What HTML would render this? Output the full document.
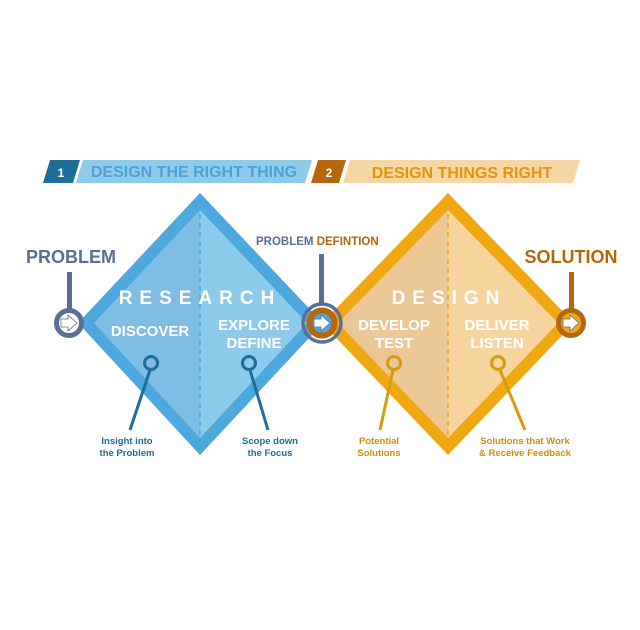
<!DOCTYPE html>
<html><head><meta charset="utf-8"><style>
html,body{margin:0;padding:0;background:#fff;}
svg{display:block;font-family:"Liberation Sans",sans-serif;font-weight:bold;}
</style></head><body>
<svg width="640" height="630" viewBox="0 0 640 630" xmlns="http://www.w3.org/2000/svg">
<rect width="640" height="630" fill="#fff"/>
<!-- banners -->
<polygon points="50,160 80,160 73,183 43,183" fill="#1d6e98"/>
<text x="61" y="177" font-size="12" fill="#fff" text-anchor="middle">1</text>
<polygon points="83,160 312,160 305,183 76,183" fill="#8fcbea"/>
<text x="194" y="177" font-size="16" fill="#4aa2d6" text-anchor="middle">DESIGN THE RIGHT THING</text>
<polygon points="318,160 346,160 339,183 311,183" fill="#b6660c"/>
<text x="329" y="177" font-size="12" fill="#fff" text-anchor="middle">2</text>
<polygon points="350,160 580,160 573,183 343,183" fill="#f6d6a2"/>
<text x="462" y="178" font-size="16" fill="#e4950c" text-anchor="middle">DESIGN THINGS RIGHT</text>

<!-- blue diamond -->
<polygon points="200,193 323,323 200,455 78,323" fill="#4da9dd"/>
<polygon points="200,210 200,438 94,323" fill="#7fbde2"/>
<polygon points="200,210 307,323 200,438" fill="#8ccbea"/>
<line x1="200" y1="205" x2="200" y2="445" stroke="#4da9dd" stroke-width="1.5" stroke-dasharray="5,4"/>
<!-- orange diamond -->
<polygon points="448,193 574,323 448,455 322,323" fill="#f0a812"/>
<polygon points="448,210 448,438 338,323" fill="#ebc795"/>
<polygon points="448,210 558,323 448,438" fill="#f5d49e"/>
<line x1="448" y1="205" x2="448" y2="445" stroke="#f0a812" stroke-width="1.5" stroke-dasharray="5,4"/>

<!-- titles -->
<text x="200" y="304" font-size="19" fill="#fff" text-anchor="middle" letter-spacing="7">RESEARCH</text>
<text x="449" y="304" font-size="19" fill="#fff" text-anchor="middle" letter-spacing="7">DESIGN</text>
<g font-size="15" fill="#fff" text-anchor="middle">
<text x="150" y="336">DISCOVER</text>
<text x="254" y="330">EXPLORE</text>
<text x="254" y="348">DEFINE</text>
<text x="394" y="330">DEVELOP</text>
<text x="394" y="348">TEST</text>
<text x="497" y="330">DELIVER</text>
<text x="497" y="348">LISTEN</text>
</g>

<!-- pins -->
<g fill="none" stroke-width="3">
<line x1="130" y1="430" x2="150" y2="370" stroke="#1d6e98"/>
<circle cx="151" cy="363" r="6.5" stroke="#1d6e98" fill="#7fbde2"/>
<line x1="268" y1="430" x2="250" y2="370" stroke="#1d6e98"/>
<circle cx="249" cy="363" r="6.5" stroke="#1d6e98" fill="#8ccbea"/>
<line x1="380" y1="430" x2="393" y2="370" stroke="#d89a10"/>
<circle cx="394" cy="363" r="6.5" stroke="#d89a10" fill="#ebc795"/>
<line x1="525" y1="430" x2="500" y2="370" stroke="#d89a10"/>
<circle cx="498" cy="363" r="6.5" stroke="#d89a10" fill="#f5d49e"/>
</g>
<g font-size="9.5" text-anchor="middle">
<text x="127" y="444" fill="#1d6e98">Insight into</text>
<text x="127" y="456" fill="#1d6e98">the Problem</text>
<text x="270" y="444" fill="#1d6e98">Scope down</text>
<text x="270" y="456" fill="#1d6e98">the Focus</text>
<text x="379" y="444" fill="#d08e0e">Potential</text>
<text x="379" y="456" fill="#d08e0e">Solutions</text>
<text x="525" y="444" fill="#d08e0e">Solutions that Work</text>
<text x="525" y="456" fill="#d08e0e">&amp; Receive Feedback</text>
</g>

<!-- side labels -->
<text x="71" y="263" font-size="18" fill="#5a6f96" text-anchor="middle">PROBLEM</text>
<rect x="67" y="272" width="5" height="38" fill="#5a6f96"/>
<circle cx="69" cy="323" r="12.5" fill="#fff" stroke="#5a6f96" stroke-width="5"/>
<text x="256" y="245" font-size="11.5" fill="#5a6f96">PROBLEM <tspan fill="#b6660c">DEFINTION</tspan></text>
<rect x="319" y="254" width="5" height="50" fill="#5a6f96"/>
<circle cx="322" cy="323" r="19" fill="none" stroke="#5a6f96" stroke-width="3.5"/>
<circle cx="322" cy="323" r="12.5" fill="#4da9dd" stroke="#b6660c" stroke-width="6"/>
<text x="571" y="263" font-size="18" fill="#b6660c" text-anchor="middle">SOLUTION</text>
<rect x="569" y="272" width="5" height="38" fill="#b6660c"/>
<circle cx="571" cy="323" r="12.5" fill="#f0a812" stroke="#b6660c" stroke-width="5"/>
<!-- arrows -->
<g fill="#fff" stroke="#5a6f96" stroke-width="0.8">
<polygon points="61,319 68,319 68,315 77,323 68,331 68,327 61,327"/>
<polygon points="314,319 321,319 321,315 330,323 321,331 321,327 314,327"/>
<polygon points="563,319 570,319 570,315 579,323 570,331 570,327 563,327"/>
</g>
</svg>
</body></html>
